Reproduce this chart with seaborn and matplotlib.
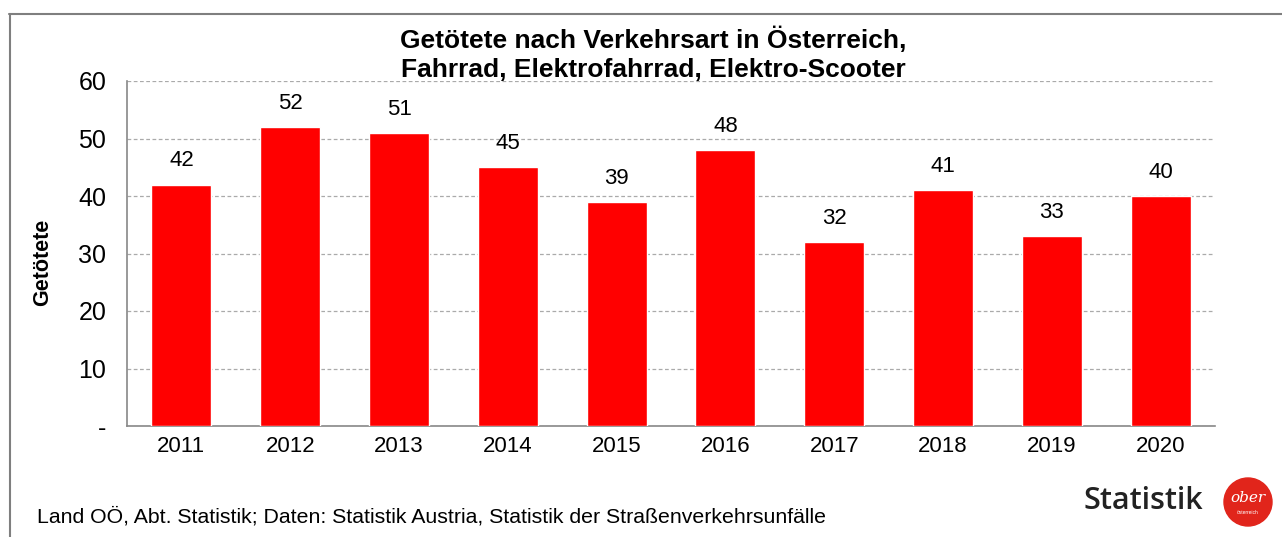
import pandas as pd
import seaborn as sns
import matplotlib.pyplot as plt
from matplotlib.patches import Ellipse
from matplotlib.lines import Line2D

# Data
years = ["2011", "2012", "2013", "2014", "2015", "2016", "2017", "2018", "2019", "2020"]
killed = [42, 52, 51, 45, 39, 48, 32, 41, 33, 40]
y_ticks = [0, 10, 20, 30, 40, 50, 60]
y_tick_labels = ["-", "10", "20", "30", "40", "50", "60"]

title = "Getötete nach Verkehrsart in Österreich,\nFahrrad, Elektrofahrrad, Elektro-Scooter"
source = "Land OÖ, Abt. Statistik; Daten: Statistik Austria, Statistik der Straßenverkehrsunfälle"

df = pd.DataFrame({"Jahr": years, "Getötete": killed})

sns.set_style("white")
plt.rcParams['font.family'] = ['Liberation Sans', 'DejaVu Sans']

fig = plt.figure(figsize=(12.82, 5.37), dpi=100)
ax = fig.add_axes([127 / 1282, 1 - 426 / 537, (1215 - 127) / 1282, (426 - 81) / 537])

sns.barplot(data=df, x="Jahr", y="Getötete", color="#ff0000", saturation=1,
            width=0.55, ax=ax, zorder=3)

# bar labels
for i, v in enumerate(killed):
    ax.text(i, v + 4.1, str(v), ha="center", va="center", fontsize=16, color="#000000")

ax.set_ylim(0, 60)
ax.set_xlim(-0.5, len(years) - 0.5)
ax.set_yticks(y_ticks)
ax.set_yticklabels(y_tick_labels, fontsize=18, color="#000000")
ax.tick_params(axis="y", length=7, color="#888888", width=1, pad=8)
ax.tick_params(axis="x", length=0, labelsize=16, labelcolor="#000000", pad=7)
ax.set_xticks([i - 0.5 for i in range(len(years) + 1)], minor=True)
ax.tick_params(axis="x", which="minor", length=6, color="#888888", width=1)

ax.yaxis.grid(True, linestyle=(0, (3, 2)), color="#aaaaaa", linewidth=0.9, zorder=0)
ax.xaxis.grid(False)
for s in ["top", "right"]:
    ax.spines[s].set_visible(False)
for s in ["left", "bottom"]:
    ax.spines[s].set_color("#888888")
    ax.spines[s].set_linewidth(1.2)

ax.set_xlabel("")
ax.set_ylabel("")
fig.text(43 / 1282, 1 - 262 / 537, "Getötete", rotation=90, ha="center", va="center",
         fontsize=15.5, fontweight="bold", color="#000000")

fig.text(653 / 1282, 1 - 54 / 537, title, ha="center", va="center", fontsize=19,
         fontweight="bold", linespacing=1.25, color="#000000")

fig.text(37 / 1282, 1 - 517 / 537, source, ha="left", va="center", fontsize=15.3,
         color="#000000")

# outer frame (top and left edges only visible)
fig.add_artist(Line2D([9 / 1282, 1.0], [1 - 13.5 / 537, 1 - 13.5 / 537], color="#7f7f7f",
                      linewidth=1.5, transform=fig.transFigure))
fig.add_artist(Line2D([9.5 / 1282, 9.5 / 1282], [0, 1 - 13.5 / 537], color="#7f7f7f",
                      linewidth=1.5, transform=fig.transFigure))

# logo
fig.text(1143 / 1282, 1 - 501 / 537, "Statistik", ha="center", va="center", fontsize=22,
         fontweight="semibold", color="#222222", family=["Open Sans", "DejaVu Sans"])
fig.add_artist(Ellipse((1248 / 1282, 1 - 502 / 537), 48 / 1282, 48 / 537,
                       color="#e1251b", transform=fig.transFigure))
fig.text(1248 / 1282, 1 - 498 / 537, "ober", ha="center", va="center", fontsize=11,
         style="italic", color="white", family=["DejaVu Serif"])
fig.text(1248 / 1282, 1 - 512 / 537, "österreich", ha="center", va="center", fontsize=3.5,
         color="white")

fig.savefig("out.png", dpi=100)
